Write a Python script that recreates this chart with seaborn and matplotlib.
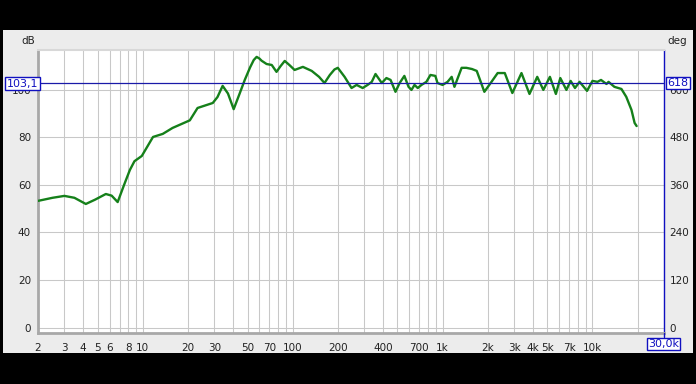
import matplotlib
matplotlib.use("Agg")
import matplotlib.pyplot as plt
from matplotlib.patches import Rectangle
from matplotlib.lines import Line2D
import numpy as np
import pandas as pd
import seaborn as sns

# ---- data ----
freq_hz = [2.0, 2.5, 3.0, 3.5, 4.17, 4.8, 5.67, 6.2, 6.8, 7.5, 8.2, 8.8, 9.85,
           11.7, 13.6, 15.8, 17.6, 20.6, 23.2, 29.3, 31.5, 34.1, 37, 40.4, 44,
           47.9, 52, 55, 57.5, 60, 62, 67, 72.5, 78, 83, 88.5, 95, 103, 117,
           134, 150, 163, 177, 190, 200, 222, 247, 267, 293, 316, 337, 357, 393,
           422, 450, 485, 517, 556, 593, 620, 650, 683, 723, 780, 830, 895, 925,
           1000, 1080, 1150, 1200, 1340, 1440, 1570, 1690, 1900, 2120, 2330,
           2600, 2920, 3360, 3800, 4280, 4700, 5200, 5700, 6100, 6700, 7150,
           7640, 8200, 9200, 10000, 10800, 11400, 12400, 12800, 14000, 15600,
           16800, 18200, 19100, 19700]
level_db = [53.3, 54.6, 55.4, 54.6, 52.0, 53.8, 56.2, 55.5, 52.8, 60.0, 66.3,
            70.0, 72.2, 80.2, 81.5, 84.0, 85.3, 87.2, 92.4, 94.5, 97.0, 101.7,
            98.5, 91.9, 98.0, 104.2, 109.5, 112.6, 113.9, 113.2, 112.3, 110.9,
            110.5, 107.6, 110.0, 112.2, 110.5, 108.4, 109.7, 108.0, 105.5,
            102.9, 106.3, 108.6, 109.3, 105.5, 100.8, 102.1, 100.8, 102.1, 103.4,
            106.7, 102.9, 105.0, 104.2, 99.2, 102.9, 105.9, 101.3, 100.0, 102.1,
            100.8, 102.1, 103.4, 106.3, 105.9, 102.9, 102.1, 103.4, 105.5, 101.3,
            109.3, 109.3, 108.8, 108.0, 99.2, 103.4, 107.1, 107.1, 98.7, 107.1,
            98.3, 105.5, 100.0, 105.5, 98.3, 105.0, 100.0, 103.8, 100.8, 103.4,
            99.6, 103.8, 103.4, 104.2, 102.5, 103.4, 101.3, 100.4, 97.1, 91.6,
            86.1, 84.8]

grid_freqs = [2, 3, 4, 5, 6, 7, 8, 9, 10, 20, 30, 40, 50, 60, 70, 80, 90, 100,
              200, 300, 400, 500, 600, 700, 800, 900, 1000, 2000, 3000, 4000,
              5000, 6000, 7000, 8000, 9000, 10000, 20000, 30000]
labeled_freqs = {2: "2", 3: "3", 4: "4", 5: "5", 6: "6", 8: "8", 10: "10",
                 20: "20", 30: "30", 50: "50", 70: "70", 100: "100", 200: "200",
                 400: "400", 700: "700", 1000: "1k", 2000: "2k", 3000: "3k",
                 4000: "4k", 5000: "5k", 7000: "7k", 10000: "10k", 30000: "30k"}
db_ticks = [0, 20, 40, 60, 80, 100]
deg_ticks = [0, 120, 240, 360, 480, 600]
cursor_db = 103.1
cursor_deg = "618"
cursor_db_label = "103,1"
cursor_freq_label = "30,0k"

df = pd.DataFrame({"freq": freq_hz, "db": level_db})

sns.set_style("white")
plt.rcParams["font.family"] = ["DejaVu Sans"]
plt.rcParams["font.size"] = 7

W, H = 696, 384
fig = plt.figure(figsize=(W / 100, H / 100), dpi=100, facecolor="black")

# gray panel
fig.patches.append(Rectangle((3 / W, 1 - 353 / H), 690 / W, 323 / H,
                             transform=fig.transFigure, facecolor="#ececec",
                             edgecolor="none", zorder=-10))

ax = fig.add_axes([38 / W, 1 - 333 / H, 626 / W, 283 / H])
ax.set_facecolor("white")
ax.set_xscale("log")
ax.set_xlim(2, 30000)
ylo, yhi = -2.3, 116.8
ax.set_ylim(ylo, yhi)

for f in grid_freqs:
    ax.axvline(f, color="#c8c8c8", lw=0.75, zorder=1)
for d in db_ticks:
    ax.axhline(d, color="#c8c8c8", lw=0.75, zorder=1)

sns.lineplot(data=df, x="freq", y="db", ax=ax, color="#15801a", lw=1.7,
             zorder=3, solid_joinstyle="round", solid_capstyle="round")
ax.axhline(cursor_db, color="#1a1aa8", lw=0.9, zorder=4)

ax.set_xticks(grid_freqs)
ax.set_xticklabels([labeled_freqs.get(f, "") for f in grid_freqs])
ax.xaxis.set_minor_locator(matplotlib.ticker.NullLocator())
ax.set_yticks(db_ticks)
ax.set_yticklabels([str(d) for d in db_ticks])
ax.tick_params(axis="both", length=0, colors="#222222", labelsize=7.5)
ax.tick_params(axis="x", pad=7)
ax.tick_params(axis="y", pad=5)
ax.set_xlabel("")
ax.set_ylabel("")

for s in ["left", "bottom"]:
    ax.spines[s].set_color("#a8a8a8")
    ax.spines[s].set_linewidth(2)
ax.spines["top"].set_color("#d8d8d8")
ax.spines["top"].set_linewidth(1.5)
ax.spines["right"].set_color("#1010c0")
ax.spines["right"].set_linewidth(1.0)

ax2 = ax.twinx()
ax2.set_ylim(ylo * 6, yhi * 6)
ax2.set_yticks(deg_ticks)
ax2.set_yticklabels([str(d) for d in deg_ticks])
ax2.tick_params(axis="y", length=0, colors="#222222", labelsize=7.5, pad=4)
for s in ax2.spines.values():
    s.set_visible(False)

fig.text(35 / W, 1 - 41 / H, "dB", ha="right", va="center", fontsize=7.5,
         color="#222222")
fig.text(667 / W, 1 - 41 / H, "deg", ha="left", va="center", fontsize=7.5,
         color="#222222")

# cursor line down to the frequency box
fig.lines.append(Line2D([663.5 / W, 663.5 / W], [1 - 337 / H, 1 - 333 / H],
                        transform=fig.transFigure, color="#1010c0", lw=1.0))

box = dict(boxstyle="square,pad=0.12", facecolor="white", edgecolor="#1010c0",
           lw=1)
fig.text(22.5 / W, 1 - 83.5 / H, cursor_db_label, ha="center", va="center",
         fontsize=8, color="#1010c0", bbox=box, zorder=10)
fig.text(678 / W, 1 - 83 / H, cursor_deg, ha="center", va="center",
         fontsize=8, color="#1010c0", bbox=box, zorder=10)
fig.text(663.5 / W, 1 - 344 / H, cursor_freq_label, ha="center", va="center",
         fontsize=8, color="#1010c0", bbox=box, zorder=10)

fig.savefig("out.png", dpi=100, facecolor="black")
